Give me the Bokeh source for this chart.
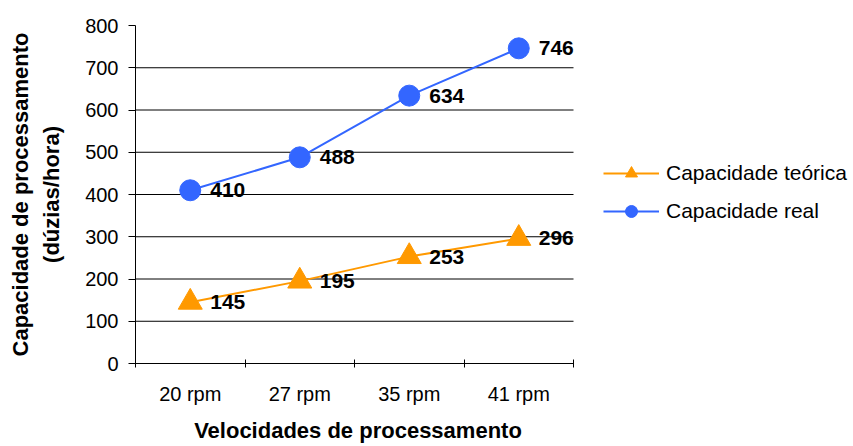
from bokeh.plotting import figure
from bokeh.layouts import row
from bokeh.models import Range1d, FixedTicker, Legend, LegendItem, ColumnDataSource
from bokeh.core.properties import value
from bokeh.embed import file_html
from bokeh.resources import INLINE

categories = ["20 rpm", "27 rpm", "35 rpm", "41 rpm"]
teorica = [145, 195, 253, 296]
real = [410, 488, 634, 746]
y_ticks = [0, 100, 200, 300, 400, 500, 600, 700, 800]
series_names = ["Capacidade teórica", "Capacidade real"]

FONT = "Liberation Sans"
W, H = 853, 446
LEFT, TOP, BOTTOM = 135, 25, 83
DATA_RIGHT = 573   # pixel where the category axis ends
PLOT_W = 580       # main figure width (a little room for the last data labels)

n = len(categories)
xpos = [i + 1 for i in range(n)]
x_lo, x_hi = 0.5, n + 0.5
x_end = x_lo + (x_hi - x_lo) * (PLOT_W - LEFT) / (DATA_RIGHT - LEFT)

orange = "#FF9900"
blue = "#3366FF"

p = figure(width=PLOT_W, height=H, x_range=Range1d(x_lo, x_end),
           y_range=Range1d(y_ticks[0], y_ticks[-1]),
           output_backend="svg", toolbar_location=None,
           min_border_left=LEFT, min_border_right=0, min_border_top=TOP, min_border_bottom=BOTTOM)
p.outline_line_color = None
p.background_fill_color = "white"
p.xgrid.visible = False
p.ygrid.visible = False

# horizontal gridlines limited to the category area
grid_y = y_ticks[1:-1]
p.segment(x0=[x_lo] * len(grid_y), x1=[x_hi] * len(grid_y), y0=grid_y, y1=grid_y,
          line_color="black", line_width=1)

# y axis
ya = p.yaxis[0]
ya.ticker = FixedTicker(ticks=y_ticks)
ya.major_tick_in = 0
ya.major_tick_out = 7
ya.minor_tick_line_color = None
ya.axis_line_color = "black"
ya.major_tick_line_color = "black"
ya.major_label_standoff = 10
ya.major_label_text_font = FONT
ya.major_label_text_font_size = "20px"
ya.major_label_text_color = "black"
ya.axis_label = "Capacidade de processamento\n(dúzias/hora)"
ya.axis_label_text_font = FONT
ya.axis_label_text_font_size = "22px"
ya.axis_label_text_font_style = "bold"
ya.axis_label_text_color = "black"
ya.axis_label_standoff = 18
ya.axis_label_text_line_height = 1.25

# x axis
xa = p.xaxis[0]
xa.bounds = (x_lo, x_hi)
xa.ticker = FixedTicker(ticks=xpos, minor_ticks=[x - 0.5 for x in xpos] + [x_hi])
xa.major_label_overrides = {x: c for x, c in zip(xpos, categories)}
xa.major_tick_line_color = None
xa.major_tick_in = 0
xa.major_tick_out = 0
xa.minor_tick_line_color = "black"
xa.minor_tick_in = 4
xa.minor_tick_out = 4
xa.axis_line_color = "black"
xa.major_label_standoff = 15
xa.major_label_text_font = FONT
xa.major_label_text_font_size = "20px"
xa.major_label_text_color = "black"
xa.axis_label = "Velocidades de processamento"
xa.axis_label_text_font = FONT
xa.axis_label_text_font_size = "22px"
xa.axis_label_text_font_style = "bold"
xa.axis_label_text_color = "black"
xa.axis_label_standoff = 10

src_t = ColumnDataSource(dict(x=xpos, y=teorica, lab=[str(v) for v in teorica]))
src_r = ColumnDataSource(dict(x=xpos, y=real, lab=[str(v) for v in real]))

p.line("x", "y", source=src_t, line_color=orange, line_width=2)
p.scatter("x", "y", source=src_t, marker="triangle", size=24, fill_color=orange, line_color=orange)
p.line("x", "y", source=src_r, line_color=blue, line_width=2)
p.scatter("x", "y", source=src_r, marker="circle", size=21, fill_color=blue, line_color=blue)

for s in (src_t, src_r):
    p.text("x", "y", text="lab", source=s, x_offset=20, text_baseline="middle", text_align="left",
           text_font=value(FONT), text_font_style="bold", text_font_size="21px", text_color="black")

# legend panel to the right of the chart (its glyphs reuse the series sources,
# which fall outside this panel's ranges, so only the legend is visible)
lg = figure(width=W - PLOT_W, height=H, x_range=Range1d(-2, -1), y_range=Range1d(-2, -1),
            output_backend="svg", toolbar_location=None,
            min_border_left=0, min_border_right=0, min_border_top=0, min_border_bottom=0)
lg.axis.visible = False
lg.grid.visible = False
lg.outline_line_color = None
glt = lg.line("x", "y", source=src_t, line_color=orange, line_width=2)
gmt = lg.scatter("x", "y", source=src_t, marker="triangle", fill_color=orange, line_color=orange)
glr = lg.line("x", "y", source=src_r, line_color=blue, line_width=2)
gmr = lg.scatter("x", "y", source=src_r, marker="circle", fill_color=blue, line_color=blue)

legend = Legend(items=[LegendItem(label=series_names[0], renderers=[glt, gmt]),
                       LegendItem(label=series_names[1], renderers=[glr, gmr])],
                location=(23, 137), orientation="vertical")
legend.border_line_color = None
legend.background_fill_alpha = 0
legend.label_text_font = FONT
legend.label_text_font_size = "21px"
legend.label_text_color = "black"
legend.glyph_width = 56
legend.glyph_height = 30
legend.label_height = 30
legend.label_standoff = 7
legend.spacing = 8
legend.padding = 0
legend.margin = 0
lg.add_layout(legend, "center")

layout = row(p, lg)
open("out.html", "w").write(file_html(layout, INLINE))
